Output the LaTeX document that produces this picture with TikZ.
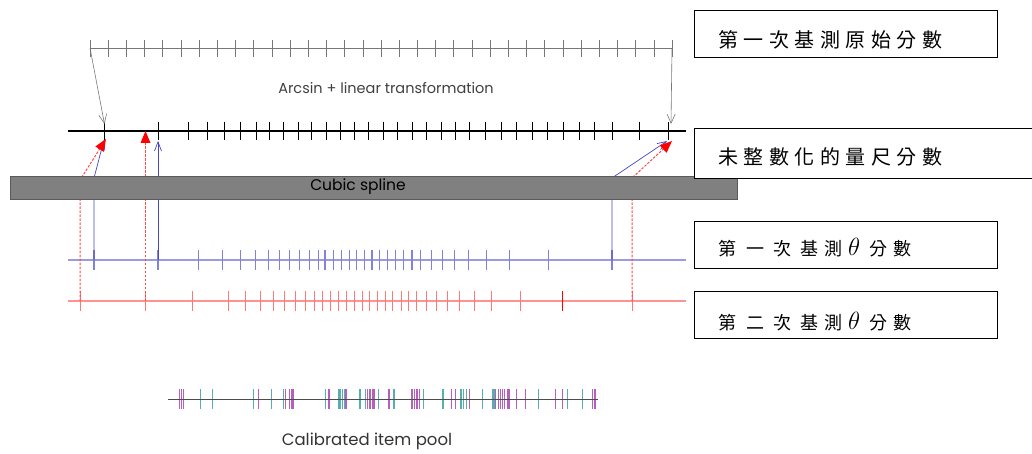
\documentclass[tikz,border=0pt]{standalone}
\usepackage{fontspec}
\setmainfont{Liberation Serif}
\newfontfamily\cjk{Noto Sans CJK TC}
\newfontfamily\gothic{Poppins}
\usetikzlibrary{arrows.meta,calc}
\definecolor{scalegray}{RGB}{120,120,120}
\definecolor{bluel}{RGB}{130,130,215}
\definecolor{blueC}{RGB}{70,70,190}
\definecolor{redl}{RGB}{255,120,120}
\definecolor{redC}{RGB}{255,70,70}
\definecolor{poolP}{RGB}{160,40,170}
\definecolor{poolT}{RGB}{30,150,150}
\definecolor{barfill}{RGB}{128,128,128}
\definecolor{barline}{RGB}{90,90,90}
\begin{document}
\begin{tikzpicture}[x=1pt,y=-1pt,
  box/.style={draw=black,line width=1.3pt,fill=white,anchor=north west,inner sep=0pt},
  boxtext/.style={anchor=west,inner sep=0pt,font=\cjk\fontsize{20}{22}\selectfont},
  thetatext/.style={anchor=west,inner sep=0pt,font=\cjk\fontsize{18}{20}\selectfont},
  grayarrow/.style={draw=scalegray,line width=0.6pt,-{Straight Barb[length=9pt,width=8pt]}},
  bluearrow/.style={draw=blueC,line width=0.7pt,-{Straight Barb[length=9pt,width=7pt]}},
  reddash/.style={draw=redC,line width=1pt,dash pattern=on 2.5pt off 1.5pt},
  redtip/.style={draw=none,fill=red}
]
\useasboundingbox (0,0) rectangle (1032,454);

% top raw-score scale
\coordinate (t0) at (90,48);
\coordinate (t1) at (672,48);
\draw[scalegray,line width=0.6pt] (t0) -- (t1);
\foreach \i in {0,...,32} \draw[scalegray,line width=0.6pt] ({90+\i*18.1875},40) -- ++(0,17);
\node[font=\gothic\fontsize{14.5}{16}\selectfont,text=black!75] (arc) at (386,88) {Arcsin + linear transformation};

% second (scale score) line
\coordinate (s0) at (68,131);
\coordinate (s1) at (686,131);
\draw[line width=1.6pt] (s0) -- (s1);
\foreach \x in {104.5,158.9,188.3,207,224.8,240.4,256,269.4,283.7,298.4,311.7,326,340.7,354,368.8,383,397.7,412,426.3,441,455.7,469.9,485.5,501.1,516.7,532.3,547.9,563.5,579.1,594.7,612.5,639.3,668.2}
  \draw[line width=0.9pt] (\x,122) -- (\x,140);
\coordinate (sL) at (104.5,124);
\coordinate (sR) at (671,124);
\draw[grayarrow] (t0) -- (sL);
\draw[grayarrow] (t1) -- (sR);

% blue theta line (first test)
\draw[bluel,line width=1.4pt,opacity=0.8] (68,260) -- (686,260);
\foreach \x in {94,158,198.5,222.2,240.6,255.7,268.7,279.3,289.5,299.7,309.5,318.9,325,333.2,341.4,349.5,356.9,364.6,372,379.7,387.5,395.6,403.8,412,420.9,431.5,442.1,454.4,468.7,486.2,509.9,548.6,612}
  \draw[bluel,line width=1.1pt] (\x,250) -- (\x,270);

% red theta line (second test)
\draw[redl,line width=1.2pt,opacity=0.8] (68,301) -- (686,301);
\foreach \x in {80,145.5,192.4,228,245.5,260.6,273.2,284.2,295.3,305.5,314,322.2,330.4,338.1,346.3,354,362.2,369.5,377.3,385,392.8,401,408.7,416.9,426.3,436.5,447.1,459.7,474,491.1,520.9,632}
  \draw[redl,line width=0.9pt] (\x,291) -- (\x,311);
\draw[red,line width=1.2pt] (562.1,291) -- (562.1,311);

% connectors
\coordinate (b1) at (94,260);  \coordinate (b1k) at (94,178);  \coordinate (b1e) at (104,140);
\coordinate (b2) at (158,260); \coordinate (b2e) at (158,141);
\coordinate (b3) at (612,260); \coordinate (b3k) at (612,178); \coordinate (b3e) at (667,141);
\coordinate (r1) at (80,301);  \coordinate (r1k) at (80,180);  \coordinate (r1e) at (106,139);
\coordinate (r2) at (145.5,301); \coordinate (r2k) at (145.5,200); \coordinate (r2e) at (145.5,131);
\coordinate (r3) at (632,301); \coordinate (r3k) at (632,178); \coordinate (r3e) at (672,141);
\draw[bluearrow] (b1) -- (b1k) -- (b1e);
\draw[bluearrow] (b2) -- (b2e);
\draw[bluearrow] (b3) -- (b3k) -- (b3e);
\draw[reddash] (r1) -- (r1k) -- ($(r1e)!10pt!(r1k)$);
\draw[reddash] (r2) -- (r2k) -- ($(r2e)!10pt!(r2k)$);
\draw[reddash] (r3) -- (r3k) -- ($(r3e)!10pt!(r3k)$);
\foreach \e/\k in {r1e/r1k,r2e/r2k,r3e/r3k}
  \fill[redtip] (\e) -- ($(\e)!12pt!(\k)!5pt!90:(\k)$) -- ($(\e)!12pt!(\k)!5pt!-90:(\k)$) -- cycle;

% cubic spline bar
\node[draw=barline,fill=barfill,line width=0.8pt,anchor=north west,minimum width=727pt,minimum height=23pt,inner sep=0pt] (bar) at (10,176) {};
\node[font=\gothic\fontsize{15.5}{17}\selectfont] (barlbl) at (358,187) {Cubic spline};

% item pool
\coordinate (p0) at (168,399);
\coordinate (p1) at (598,399);
\foreach \x/\c in {179.7/poolP,181.7/poolP,183.4/poolP,200.8/poolT,212.6/poolT,253.4/poolT,258.8/poolP,271.2/poolT,283.6/poolT,285.3/poolP,289.6/poolP,292/poolP,293.6/poolP,325.8/poolT,329.1/poolP,338.9/poolT,340.5/poolT,342.2/poolT,344.2/poolT,345.9/poolP,360/poolT,365.7/poolT,367.7/poolP,370/poolP,372.4/poolP,374/poolP,378.4/poolT,389.1/poolP,394.1/poolT,411.9/poolP,414.2/poolP,416.9/poolP,419.3/poolP,423.6/poolT,443/poolT,451.4/poolP,455.4/poolP,461.1/poolT,463.8/poolT,466.2/poolT,469.5/poolP,482.2/poolT,492.3/poolT,494/poolT,495.6/poolP,498.3/poolP,500.7/poolP,502.3/poolP,504.7/poolP,507.4/poolP,509/poolP,516.4/poolP,525.8/poolP,538.2/poolT,555.3/poolP,562.6/poolP,567.7/poolT,582.7/poolT,592.8/poolP,595.1/poolP}
  \draw[\c,line width=1.3pt,opacity=0.75] (\x,389) -- (\x,409);
\draw[black!70,line width=0.9pt] (p0) -- (p1);
\node[font=\gothic\fontsize{16.5}{18}\selectfont,text=black!80] (pool) at (367,441) {Calibrated item pool};

% label boxes
\node[box,minimum width=303pt,minimum height=47pt] (bx1) at (694,10) {};
\node[boxtext] (lb1) at (718,40) {第\hspace{5.5pt}一\hspace{5.5pt}次\hspace{5.5pt}基\hspace{5.5pt}測\hspace{5.5pt}原\hspace{5.5pt}始\hspace{5.5pt}分\hspace{5.5pt}數};
\node[box,minimum width=340pt,minimum height=50pt] (bx2) at (694,128) {};
\node[boxtext] (lb2) at (718,157) {未\hspace{5.5pt}整\hspace{5.5pt}數\hspace{5.5pt}化\hspace{5.5pt}的\hspace{5.5pt}量\hspace{5.5pt}尺\hspace{5.5pt}分\hspace{5.5pt}數};
\node[box,minimum width=303pt,minimum height=47pt] (bx3) at (694,221) {};
\node[thetatext] (lb3) at (718,248) {第\hspace{10pt}一\hspace{9pt}次\hspace{9pt}基\hspace{6pt}測\hspace{6pt}{\fontsize{26}{26}\selectfont$\theta$}\hspace{9pt}分\hspace{6pt}數};
\node[box,minimum width=303pt,minimum height=47pt] (bx4) at (694,291) {};
\node[thetatext] (lb4) at (718,322) {第\hspace{10pt}二\hspace{9pt}次\hspace{9pt}基\hspace{6pt}測\hspace{6pt}{\fontsize{26}{26}\selectfont$\theta$}\hspace{9pt}分\hspace{6pt}數};
\end{tikzpicture}
\end{document}
